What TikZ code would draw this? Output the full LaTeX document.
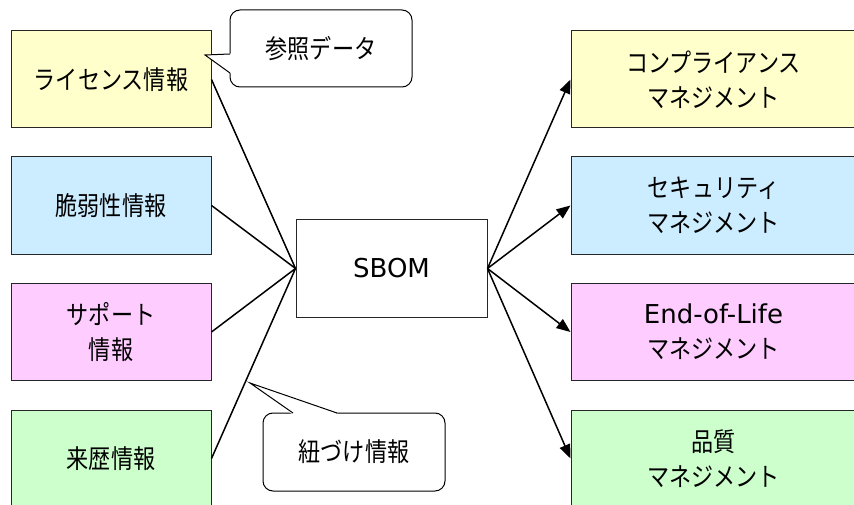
\documentclass[tikz,border=0pt]{standalone}
\usepackage{fontspec}
\setmainfont{DejaVu Sans}
\newfontfamily\jp[FakeStretch=0.85]{Noto Sans CJK JP}
\usetikzlibrary{arrows.meta}
\definecolor{cyel}{HTML}{FFFFCC}
\definecolor{cblu}{HTML}{CCECFF}
\definecolor{cpnk}{HTML}{FFCCFF}
\definecolor{cgrn}{HTML}{CCFFCC}
\begin{document}
\begin{tikzpicture}[x=1pt,y=-1pt,
  box/.style={draw=black!85, line width=1pt, minimum width=200pt, minimum height=97pt,
    align=center, inner sep=0pt, font=\jp\fontsize{26}{35}\selectfont},
  rbox/.style={box, minimum width=285pt},
  lat/.style={font=\fontsize{26}{35}\selectfont},
  conn/.style={line width=1.5pt},
  arr/.style={conn, -{Triangle[length=14pt,width=11pt]}},
  callbox/.style={draw, fill=white, rounded corners=10pt, line width=1pt, inner sep=0pt,
    minimum width=182pt, minimum height=77pt, font=\jp\fontsize{26}{35}\selectfont},
  tailline/.style={line width=1pt, line join=miter}]
\clip (0,0) rectangle (854,505);
\fill[white] (0,0) rectangle (854,505);
% left boxes
\node[box, fill=cyel] (l1) at (111,79.5) {ライセンス情報};
\node[box, fill=cblu] (l2) at (111,205.5) {脆弱性情報};
\node[box, fill=cpnk] (l3) at (111,332) {サポート\\情報};
\node[box, fill=cgrn] (l4) at (111,458.5) {来歴情報};
% center
\node[box, lat, minimum width=191pt, fill=white] (sbom) at (391.5,268.5) {SBOM};
% right boxes
\node[rbox, fill=cyel] (r1) at (713.5,79.5) {コンプライアンス\\マネジメント};
\node[rbox, fill=cblu] (r2) at (713.5,205.5) {セキュリティ\\マネジメント};
\node[rbox, fill=cpnk] (r3) at (713.5,332) {{\fontspec{DejaVu Sans}\fontsize{26}{35}\selectfont End-of-Life}\\マネジメント};
\node[rbox, fill=cgrn] (r4) at (713.5,458.5) {品質\\マネジメント};
% connectors
\draw[conn] (l1.east) -- (sbom.west);
\draw[conn] (l2.east) -- (sbom.west);
\draw[conn] (l3.east) -- (sbom.west);
\draw[conn] (l4.east) -- (sbom.west);
\draw[arr] (sbom.east) -- (r1.west);
\draw[arr] (sbom.east) -- (r2.west);
\draw[arr] (sbom.east) -- (r3.west);
\draw[arr] (sbom.east) -- (r4.west);
% callout 1
\node[callbox] (c1) at (321,48.5) {参照データ};
\coordinate (t1a) at (230,54);
\coordinate (t1b) at (205,55);
\coordinate (t1c) at (230,73);
\fill[white] (231,53.5) -- (t1b) -- (231,73.5) -- cycle;
\draw[tailline] (t1a) -- (t1b) -- (t1c);
% callout 2
\node[callbox, minimum height=78pt] (c2) at (354,452) {紐づけ情報};
\coordinate (t2a) at (293,413);
\coordinate (t2b) at (250,383);
\coordinate (t2c) at (337,413);
\fill[white] (292,414) -- (t2b) -- (338,414) -- cycle;
\draw[tailline] (t2a) -- (t2b) -- (t2c);
\end{tikzpicture}
\end{document}
